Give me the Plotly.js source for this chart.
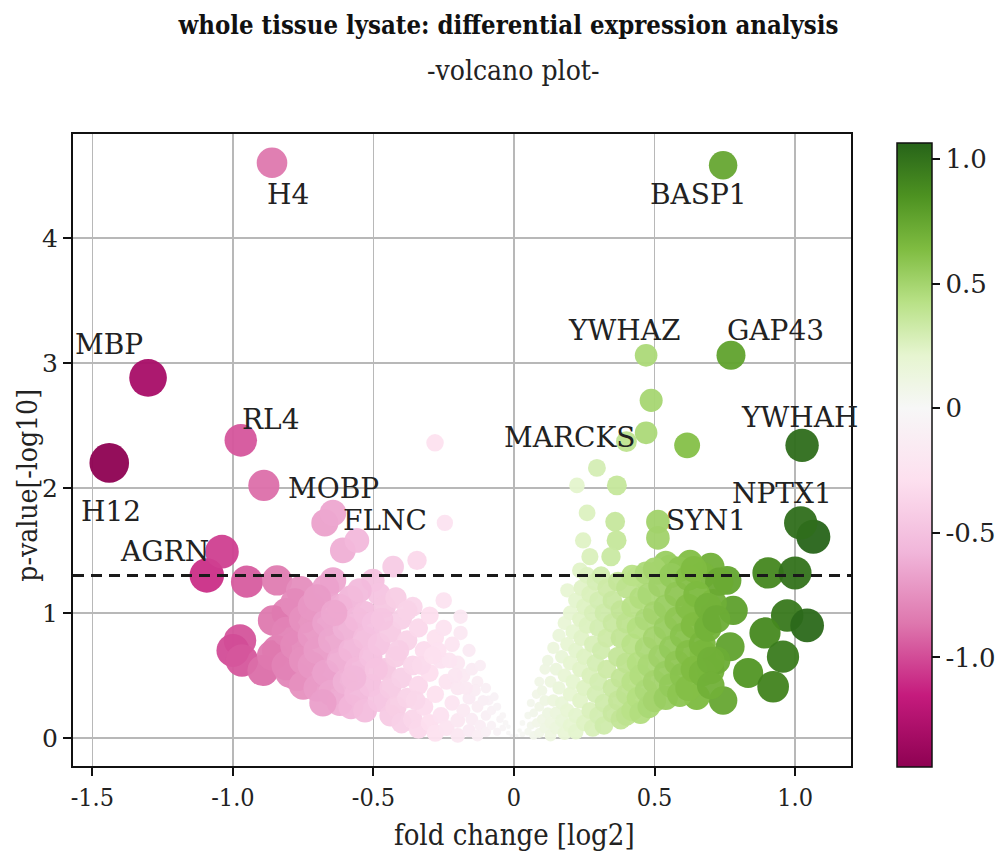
<!DOCTYPE html>
<html>
<head>
<meta charset="utf-8">
<script src="https://cdn.plot.ly/plotly-3.0.1.min.js"></script>
<style>html,body{margin:0;padding:0;background:#fff;}#chart{width:1001px;height:855px;}</style>
</head>
<body>
<div id="chart"></div>
<script>
// ---- data (fold change [log2], p-value [-log10]) ----
const geneNames = ['H4','BASP1','MBP','H12','RL4','MOBP','FLNC','AGRN','YWHAZ','GAP43','MARCKS','YWHAH','NPTX1','SYN1'];
const geneFc = [-0.861,0.744,-1.302,-1.44,-0.972,-0.89,-0.644,-1.039,0.47,0.772,0.47,1.025,1.02,0.512];
const genePv = [4.60,4.58,2.88,2.20,2.38,2.02,1.80,1.49,3.06,3.06,2.44,2.34,1.72,1.73];

const downFc = [
 -0.975,-1.0,-0.968,-0.893,-0.843,-0.797,-0.772,-0.665,-0.95,-0.843,-1.093,
 -0.81,-0.857,-0.76,-0.644,-0.609,-0.559,-0.43,-0.345,-0.502,-0.25,-0.19,-0.246,-0.281,-0.673,
 -0.86,-0.81,-0.81,-0.78,-0.78,-0.75,-0.75,-0.75,-0.72,-0.72,-0.72,-0.70,-0.70,
 -0.67,-0.67,-0.67,-0.65,-0.65,-0.62,-0.62,-0.62,-0.60,-0.60,-0.58,-0.58,-0.58,
 -0.56,-0.56,-0.56,-0.53,-0.53,-0.53,-0.51,-0.51,-0.50,-0.48,-0.48,-0.48,-0.46,-0.46,
 -0.44,-0.44,-0.44,-0.42,-0.42,-0.42,-0.40,-0.40,-0.40,-0.38,-0.38,-0.36,-0.36,-0.36,
 -0.34,-0.34,-0.34,-0.32,-0.32,-0.30,-0.30,-0.30,-0.28,-0.28,-0.28,-0.26,-0.26,
 -0.25,-0.24,-0.24,-0.22,-0.22,-0.20,-0.20,-0.20,-0.20,-0.19,-0.18,-0.18,-0.16,-0.16,-0.16,
 -0.15,-0.15,-0.13,-0.13,-0.13,-0.12,-0.12,-0.10,-0.10,-0.10,-0.09,-0.08,-0.08,-0.06,-0.06,
 -0.05,-0.04,-0.04,-0.03,-0.02,-0.02,-0.01,-0.07,-0.11,-0.14,-0.17,-0.21,-0.23,-0.27,
 -0.70,-0.64,-0.55,-0.47,-0.38,-0.33,-0.29,-0.68,-0.57,-0.49,-0.41,-0.35
];
const downPv = [
 0.78,0.70,0.62,0.54,0.70,0.52,0.49,0.49,1.25,1.26,1.30,
 1.00,0.94,1.18,1.26,1.50,1.58,1.37,1.42,1.26,1.10,0.97,1.72,2.36,1.72,
 0.66,0.85,0.58,1.08,0.74,0.95,0.62,0.42,1.05,0.82,0.58,0.70,0.40,
 1.20,0.92,0.52,0.78,0.36,1.05,0.62,0.28,0.88,0.45,1.12,0.70,0.25,
 0.95,0.55,0.35,1.00,0.80,0.22,0.65,0.42,0.92,1.15,0.75,0.30,1.05,0.55,
 0.85,0.40,0.18,1.12,0.65,0.25,0.95,0.48,0.12,0.78,0.32,1.05,0.58,0.15,
 0.88,0.42,0.07,0.70,0.25,0.98,0.52,0.12,0.80,0.35,0.04,0.62,0.18,
 0.88,0.45,0.08,0.75,0.28,0.60,0.40,0.14,0.02,0.84,0.50,0.22,0.70,0.32,0.06,
 0.55,0.15,0.45,0.25,0.02,0.58,0.10,0.40,0.18,0.05,0.30,0.22,0.10,0.25,0.05,
 0.15,0.08,0.18,0.12,0.04,0.09,0.02,0.33,0.30,0.38,0.40,0.50,0.62,0.70,
 1.12,1.00,1.18,0.95,1.02,0.58,0.66,0.28,0.48,0.55,0.70,0.30
];

const upFc = [
 0.295,0.224,0.366,0.26,0.36,0.246,0.365,0.27,0.235,0.19,0.616,0.40,0.488,0.512,0.345,
 0.904,1.0,0.972,1.043,0.893,0.957,0.833,0.922,0.744,0.65,0.78,0.769,0.70,0.673,1.065,
 0.637,0.687,0.708,0.758,0.70,0.626,0.555,0.509,0.54,0.44,0.59,0.67,0.73,0.72,
 0.01,0.02,0.03,0.03,0.05,0.05,0.06,0.06,0.07,0.07,0.08,0.08,0.09,0.09,0.09,
 0.10,0.10,0.11,0.11,0.11,0.12,0.12,0.13,0.13,0.13,0.14,0.14,0.15,0.15,0.15,
 0.16,0.16,0.17,0.17,0.17,0.18,0.18,0.18,0.19,0.19,0.20,0.20,0.20,0.20,0.21,0.21,
 0.22,0.22,0.22,0.22,0.235,0.235,0.235,0.24,0.24,0.25,0.25,0.25,0.25,0.26,0.26,
 0.27,0.27,0.27,0.28,0.28,0.28,0.29,0.29,0.29,0.30,0.30,0.30,0.30,0.31,0.31,
 0.32,0.32,0.32,0.33,0.33,0.33,0.35,0.35,0.35,0.35,0.37,0.37,0.37,0.38,0.38,0.38,0.38,
 0.40,0.40,0.40,0.40,0.40,0.42,0.42,0.42,0.42,0.42,0.44,0.44,0.44,0.45,0.45,0.45,
 0.47,0.47,0.47,0.47,0.48,0.48,0.48,0.50,0.50,0.50,0.50,0.50,0.52,0.52,
 0.54,0.54,0.54,0.54,0.56,0.56,0.56,0.58,0.58,0.58,0.59,0.60,0.60,
 0.62,0.62,0.62,0.62,0.64,0.64,0.64,0.65,0.67,0.67,0.69,0.69,0.70,0.70,0.72
];
const upPv = [
 2.16,2.02,2.02,1.80,1.73,1.58,1.58,1.45,1.34,1.18,2.34,2.37,2.70,1.60,1.45,
 1.32,1.32,0.98,0.90,0.84,0.65,0.52,0.41,0.30,0.33,1.02,0.73,0.54,0.68,1.61,
 1.00,0.92,1.08,1.26,1.37,1.40,1.37,1.32,1.40,1.29,1.35,1.30,1.25,0.62,
 0.02,0.06,0.03,0.12,0.05,0.18,0.10,0.28,0.02,0.20,0.35,0.12,0.45,0.04,0.25,
 0.15,0.38,0.55,0.08,0.30,0.62,0.20,0.45,0.02,0.12,0.72,0.30,0.55,0.08,0.20,
 0.82,0.40,0.65,0.14,0.28,0.92,0.50,0.04,0.75,0.22,1.00,0.60,0.35,0.10,0.85,0.45,
 1.10,0.70,0.18,0.05,0.95,0.55,0.30,1.20,0.80,1.05,0.65,0.40,0.12,1.30,0.90,
 1.15,0.50,0.22,1.00,0.75,0.08,1.25,0.60,0.35,1.10,0.88,0.45,0.18,1.30,0.70,
 1.00,0.28,0.10,1.20,0.80,0.55,1.10,0.92,0.40,0.20,1.25,0.65,0.30,1.02,0.80,0.48,0.15,
 1.20,0.92,0.60,0.35,0.18,1.30,1.05,0.75,0.45,0.22,0.88,0.60,0.32,1.12,0.50,0.20,
 1.32,0.95,0.72,0.38,1.15,0.58,0.25,1.35,1.00,0.80,0.45,0.30,1.22,0.65,
 1.05,0.88,0.52,0.32,1.30,0.72,0.42,1.15,0.95,0.60,0.35,0.82,0.50,
 1.28,1.05,0.68,0.40,1.35,0.90,0.55,1.15,0.75,0.52,1.05,0.88,0.62,0.42,0.95
];

const pThreshold = 1.3; // -log10(0.05)
const xTickVals = [-1.5,-1.0,-0.5,0,0.5,1.0];
const xTickText = ['-1.5','-1.0','-0.5','0','0.5','1.0'];
const yTickVals = [0,1,2,3,4];
const cbTickVals = [-1.0,-0.5,0,0.5,1.0];
const cbTickText = ['-1.0','-0.5','0','0.5','1.0'];

// ---- build ----
const fc = downFc.concat(upFc, geneFc);
const pv = downPv.concat(upPv, genePv);
const cmin = Math.min(...fc), cmax = Math.max(...fc);

const piyg = ['#8e0152','#c51b7d','#de77ae','#f1b6da','#fde0ef','#f7f7f7','#e6f5d0','#b8e186','#7fbc41','#4d9221','#276419'];
const mid = -cmin / (cmax - cmin);
const colorscale = piyg.map((c, i) => {
  const s = i / 10;
  const p = s <= 0.5 ? mid * (s / 0.5) : mid + (1 - mid) * ((s - 0.5) / 0.5);
  return [p, c];
});

const CFONT = '"DejaVu Serif Condensed", "DejaVu Serif", serif';
const SFONT = '"DejaVu Serif", serif';

const trace = {
  type: 'scatter', mode: 'markers',
  x: fc, y: pv,
  marker: {
    size: fc.map(v => Math.max(3, 33 * Math.sqrt(Math.abs(v)))),
    sizemode: 'diameter',
    color: fc, cmin: cmin, cmax: cmax, colorscale: colorscale,
    opacity: 0.95, line: {width: 0},
    colorbar: {
      thickness: 35, len: 624, lenmode: 'pixels',
      x: 1.059, xanchor: 'left', xpad: 0,
      y: -0.0016, yanchor: 'bottom', ypad: 0,
      outlinewidth: 1.5, outlinecolor: '#111',
      ticks: 'outside', ticklen: 8, tickwidth: 2, tickcolor: '#111',
      tickvals: cbTickVals, ticktext: cbTickText,
      tickfont: {family: SFONT, size: 26, color: '#222'}
    }
  },
  hoverinfo: 'x+y'
};

const labelOffsets = [[16,-32],[-25,-29],[-39,33],[2,-49],[30,21],[70,-3],[52,-8],[-57,0],[-22,25],[45,25],[-76,-5],[-3,28],[-19,29],[48,1]];
const annotations = geneNames.map((g, i) => ({
  x: geneFc[i], y: genePv[i], xref: 'x', yref: 'y', text: g, showarrow: false,
  xanchor: 'center', yanchor: 'middle',
  xshift: labelOffsets[i][0], yshift: labelOffsets[i][1],
  font: {family: SFONT, size: 28, color: '#222'}
}));
annotations.push({
  xref: 'paper', yref: 'paper', x: 0.566, y: 1.101, text: '-volcano plot-', showarrow: false,
  xanchor: 'center', yanchor: 'middle', font: {family: CFONT, size: 28, color: '#222'}
});
annotations.push({
  xref: 'paper', yref: 'paper', x: 0.568, y: -0.109, text: 'fold change [log2]', showarrow: false,
  xanchor: 'center', yanchor: 'middle', font: {family: CFONT, size: 29, color: '#222'}
});
annotations.push({
  xref: 'paper', yref: 'paper', x: -0.058, y: 0.445, text: 'p-value[-log10]', showarrow: false,
  textangle: -90, xanchor: 'center', yanchor: 'middle', font: {family: CFONT, size: 28, color: '#222'}
});

const layout = {
  width: 1001, height: 855,
  margin: {l: 73, r: 150, t: 134, b: 89, autoexpand: false},
  paper_bgcolor: '#fff', plot_bgcolor: '#fff',
  showlegend: false,
  title: {
    text: '<b>whole tissue lysate: differential expression analysis</b>',
    x: 0.508, xanchor: 'center', y: 0.971, yanchor: 'middle', yref: 'container',
    font: {family: CFONT, size: 25.5, color: '#111'}
  },
  xaxis: {
    range: [-1.569, 1.199], tickvals: xTickVals, ticktext: xTickText,
    showgrid: true, gridcolor: '#b8b8b8', gridwidth: 1.5, zeroline: false,
    showline: true, linecolor: '#111', linewidth: 2, mirror: true,
    ticks: 'outside', ticklen: 8, tickwidth: 2, tickcolor: '#111',
    tickfont: {family: CFONT, size: 25, color: '#222'},
    automargin: false
  },
  yaxis: {
    range: [-0.224, 4.83], tickvals: yTickVals,
    showgrid: true, gridcolor: '#b8b8b8', gridwidth: 1.5, zeroline: false,
    showline: true, linecolor: '#111', linewidth: 2, mirror: true,
    ticks: 'outside', ticklen: 8, tickwidth: 2, tickcolor: '#111',
    tickfont: {family: SFONT, size: 25, color: '#222'},
    automargin: false
  },
  shapes: [{
    type: 'line', xref: 'paper', x0: 0, x1: 1, yref: 'y', y0: pThreshold, y1: pThreshold,
    line: {color: '#1a1a1a', width: 3, dash: '11px,7px'}, layer: 'above'
  }],
  annotations: annotations
};

Plotly.newPlot('chart', [trace], layout, {displayModeBar: false, staticPlot: true});
</script>
</body>
</html>
